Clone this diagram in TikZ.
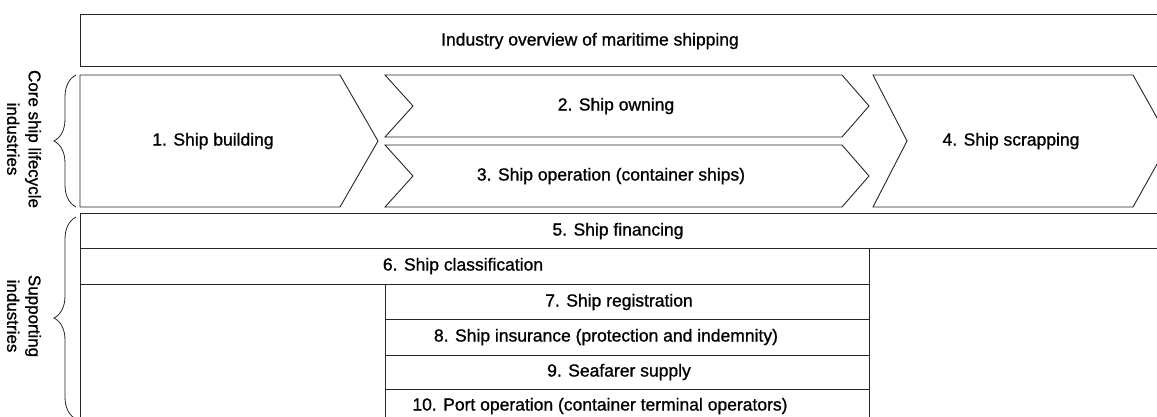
\documentclass[tikz,border=0pt]{standalone}
\usepackage{fontspec}
\setmainfont{Liberation Sans}
\newfontfamily\medfont{Liberation Sans}[BoldFont={Liberation Sans}, BoldFeatures={FakeBold=1.0}]
\usetikzlibrary{decorations.pathreplacing}
\begin{document}
\begin{tikzpicture}[x=1pt,y=-1pt,
  outl/.style={draw=black!85,line width=0.9pt,line join=miter},
  lbl/.style={font=\medfont\bfseries\fontsize{17.5}{21}\selectfont,inner sep=0pt,anchor=center},
  side/.style={font=\medfont\bfseries\fontsize{17}{21.5}\selectfont,align=center,rotate=-90,inner sep=0pt},
  brc/.style={draw=black!85,line width=0.8pt,decorate,decoration={brace,amplitude=22pt}}]
\useasboundingbox (0,0) rectangle (1157,416);
\clip (0,0) rectangle (1157,416);
% top banner
\draw[outl] (80,14) rectangle (1175,66);
\node[lbl] (ov) at (590,41) {Industry overview of maritime shipping};
% core lifecycle chevrons
\draw[outl] (80,75) -- (340,75) -- (378,141) -- (340,207) -- (80,207) -- cycle;
\node[lbl] (s1) at (213,141) {1. Ship building};
\draw[outl] (385,75) -- (842,75) -- (869,106) -- (842,137) -- (385,137) -- (413,106) -- cycle;
\node[lbl] (s2) at (616,106) {2. Ship owning};
\draw[outl] (385,145) -- (842,145) -- (869,176) -- (842,207) -- (385,207) -- (413,176) -- cycle;
\node[lbl] (s3) at (611,176) {3. Ship operation (container ships)};
\draw[outl] (873,75) -- (1133,75) -- (1170,141) -- (1133,207) -- (873,207) -- (907,141) -- cycle;
\node[lbl] (s4) at (1011,141) {4. Ship scrapping};
% supporting industries
\draw[outl] (80,213) rectangle (1175,248);
\node[lbl] (s5) at (618,231) {5. Ship financing};
\draw[outl] (80,248) rectangle (869,284);
\node[lbl] (s6) at (463,266) {6. Ship classification};
\draw[outl] (80,284) -- (80,430);
\draw[outl] (385,284) rectangle (869,319);
\node[lbl] (s7) at (619,302) {7. Ship registration};
\draw[outl] (385,319) rectangle (869,355);
\node[lbl] (s8) at (606,337) {8. Ship insurance (protection and indemnity)};
\draw[outl] (385,355) rectangle (869,389);
\node[lbl] (s9) at (619,372) {9. Seafarer supply};
\draw[outl] (385,389) rectangle (869,426);
\node[lbl] (s10) at (600,406) {10. Port operation (container terminal operators)};
% braces and side labels
\coordinate (b1a) at (76,207);
\coordinate (b1b) at (76,75);
\coordinate (b2a) at (76,419);
\coordinate (b2b) at (76,217);
\draw[brc] (b1a) -- (b1b);
\draw[brc] (b2a) -- (b2b);
\node[side] (core) at (24,139) {Core ship lifecycle\\industries};
\node[side] (supp) at (24,316) {Supporting\\industries};
\end{tikzpicture}
\end{document}
